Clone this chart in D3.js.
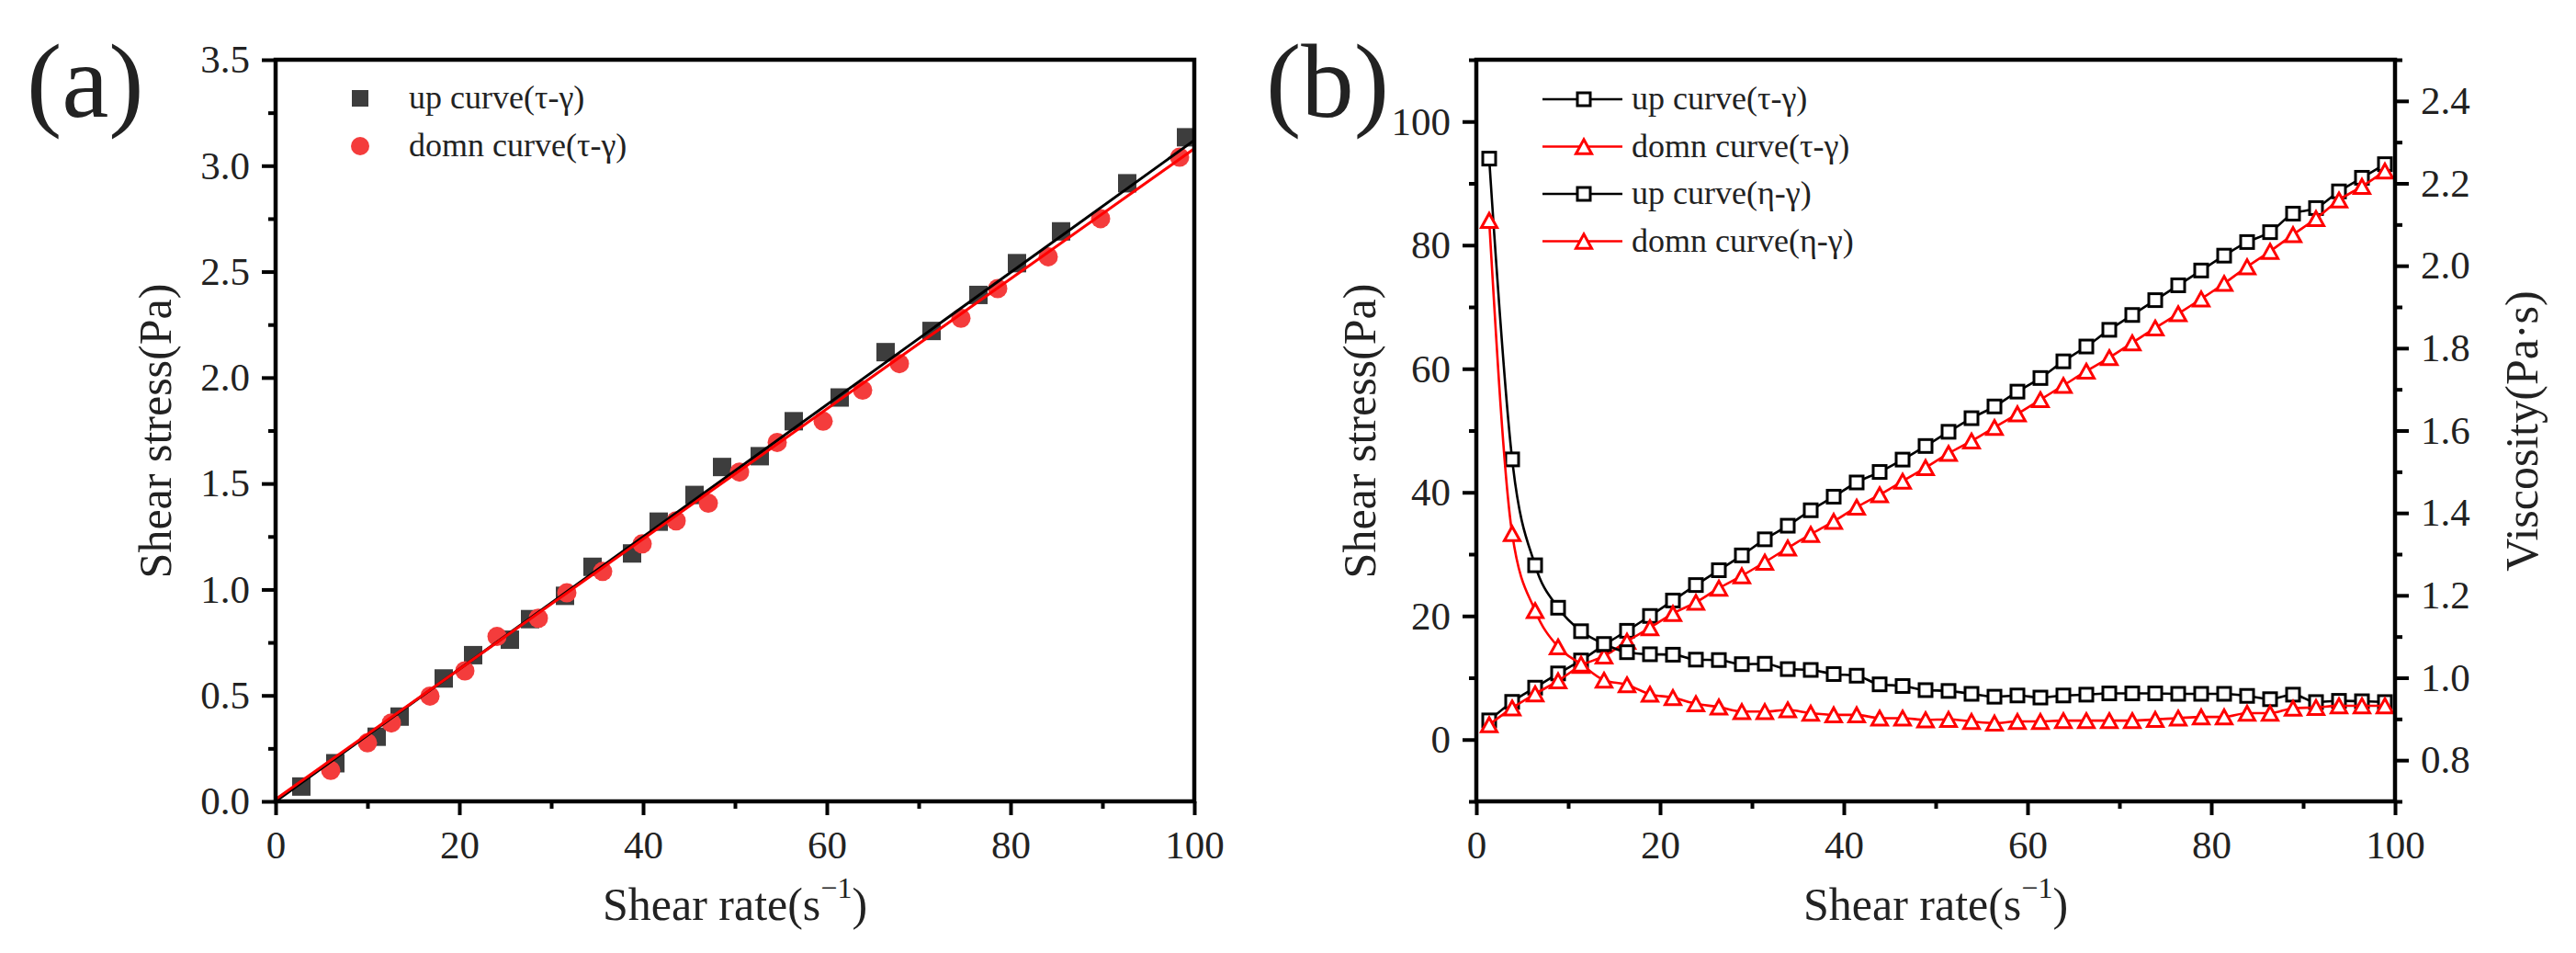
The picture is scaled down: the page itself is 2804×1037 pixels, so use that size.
<!DOCTYPE html>
<html><head><meta charset="utf-8">
<script src="https://cdn.jsdelivr.net/npm/d3@7"></script>
<style>
body{margin:0;background:#fff}
svg text{font-family:'Liberation Serif','Tinos','Times New Roman','Nimbus Roman','DejaVu Serif',serif;fill:#222}
</style>
</head><body>
<svg id="c" width="2804" height="1037"></svg>
<script>
// ---------- Panel (a) data ----------
const upRateA   = [2.8, 6.5, 11.0, 13.5, 18.3, 21.5, 25.5, 27.7, 31.5, 34.5, 38.8, 41.7, 45.6, 48.6, 52.7, 56.4, 61.4, 66.4, 71.4, 76.5, 80.7, 85.5, 92.7, 99.1];
const upStressA = [0.07, 0.18, 0.305, 0.40, 0.58, 0.69, 0.763, 0.86, 0.97, 1.107, 1.17, 1.32, 1.446, 1.578, 1.629, 1.794, 1.906, 2.12, 2.22, 2.39, 2.54, 2.69, 2.917, 3.134];
const downRateA   = [6.0, 10.0, 12.6, 16.8, 20.6, 24.1, 28.6, 31.7, 35.6, 39.9, 43.6, 47.1, 50.5, 54.6, 59.6, 63.9, 67.9, 74.6, 78.6, 84.1, 89.8, 98.4];
const downStressA = [0.146, 0.276, 0.37, 0.497, 0.616, 0.778, 0.864, 0.984, 1.085, 1.215, 1.324, 1.407, 1.554, 1.694, 1.794, 1.941, 2.066, 2.28, 2.42, 2.57, 2.75, 3.04];
const upFitA   = [[0, 0], [100, 3.12]];
const downFitA = [[0, 0.01], [100, 3.08]];
const xTicksA = [0, 20, 40, 60, 80, 100];
const xMinorA = [10, 30, 50, 70, 90];
const yTicksA = [0, 0.5, 1.0, 1.5, 2.0, 2.5, 3.0, 3.5];
const yMinorA = [0.25, 0.75, 1.25, 1.75, 2.25, 2.75, 3.25];
const legendA = ["up curve(τ-γ)", "domn curve(τ-γ)"];

// ---------- Panel (b) data ----------
const rateB = [1.4, 3.9, 6.4, 8.9, 11.4, 13.9, 16.4, 18.9, 21.4, 23.9, 26.4, 28.9, 31.4, 33.9, 36.4, 38.9, 41.4, 43.9, 46.4, 48.9,
               51.4, 53.9, 56.4, 58.9, 61.4, 63.9, 66.4, 68.9, 71.4, 73.9, 76.4, 78.9, 81.4, 83.9, 86.4, 88.9, 91.4, 93.9, 96.4, 98.9];
const upStressB = [3.1, 6.1, 8.4, 10.7, 12.8, 15.3, 17.6, 20.0, 22.5, 25.0, 27.4, 29.8, 32.4, 34.6, 37.1, 39.3, 41.6, 43.3, 45.3, 47.5,
                   49.8, 52.0, 53.9, 56.3, 58.5, 61.2, 63.6, 66.3, 68.7, 71.1, 73.5, 75.9, 78.3, 80.5, 82.1, 85.1, 86.0, 88.7, 90.9, 93.1];
const downStressB = [2.4, 5.1, 7.4, 9.5, 12.0, 13.5, 15.9, 18.1, 20.4, 22.2, 24.5, 26.5, 28.7, 31.0, 33.2, 35.3, 37.6, 39.6, 41.8, 44.0,
                     46.3, 48.3, 50.5, 52.7, 55.0, 57.3, 59.6, 61.8, 64.2, 66.6, 68.9, 71.3, 73.8, 76.5, 79.0, 81.7, 84.3, 87.3, 89.5, 92.0];
const upViscB = [2.260, 1.530, 1.273, 1.170, 1.113, 1.082, 1.062, 1.057, 1.056, 1.044, 1.043, 1.033, 1.034, 1.021, 1.019, 1.009, 1.005, 0.984, 0.980, 0.970,
                 0.968, 0.961, 0.954, 0.957, 0.952, 0.957, 0.959, 0.962, 0.962, 0.962, 0.961, 0.961, 0.961, 0.956, 0.948, 0.959, 0.941, 0.944, 0.943, 0.941];
const downViscB = [2.110, 1.350, 1.163, 1.075, 1.033, 0.994, 0.983, 0.960, 0.952, 0.937, 0.929, 0.918, 0.918, 0.922, 0.914, 0.910, 0.910, 0.902, 0.902, 0.898,
                   0.899, 0.894, 0.890, 0.894, 0.894, 0.896, 0.896, 0.896, 0.896, 0.899, 0.902, 0.905, 0.905, 0.914, 0.914, 0.926, 0.928, 0.932, 0.932, 0.932];
const xTicksB = [0, 20, 40, 60, 80, 100];
const xMinorB = [10, 30, 50, 70, 90];
const yTicksBL = [0, 20, 40, 60, 80, 100];
const yMinorBL = [-10, 10, 30, 50, 70, 90, 110];
const yTicksBR = [0.8, 1.0, 1.2, 1.4, 1.6, 1.8, 2.0, 2.2, 2.4];
const yMinorBR = [0.7, 0.9, 1.1, 1.3, 1.5, 1.7, 1.9, 2.1, 2.3, 2.5];
const legendB = ["up curve(τ-γ)", "domn curve(τ-γ)", "up curve(η-γ)", "domn curve(η-γ)"];

// ---------- drawing ----------
const FONT = "'Liberation Serif','Tinos','Times New Roman','Nimbus Roman','DejaVu Serif',serif";
const svg = d3.select('#c');
svg.append('rect').attr('width', 2804).attr('height', 1037).attr('fill', '#fff');

const TOP = 65, BOT = 872;
const xA = d3.scaleLinear().domain([0, 100]).range([300, 1300]);
const yA = d3.scaleLinear().domain([0, 3.5]).range([BOT, TOP]);
const xB = d3.scaleLinear().domain([0, 100]).range([1607, 2607]);
const yBL = d3.scaleLinear().domain([-10, 110]).range([BOT, TOP]);
const yBR = d3.scaleLinear().domain([0.7, 2.5]).range([BOT, TOP]);

function styleAxis(sel) {
  sel.attr('font-family', FONT);
  sel.select('.domain').remove();
  sel.selectAll('line').attr('stroke', '#000').attr('stroke-width', 4);
  sel.selectAll('text').attr('font-size', 43).attr('fill', '#222').style('font-family', FONT);
}
function addAxis(gen, tr) {
  svg.append('g').attr('transform', tr).call(gen).call(styleAxis);
}
function txt(sel) { return sel.style('font-family', FONT); }

// ---- Panel (a) ----
const gA = svg.append('g');
gA.selectAll('rect.up').data(d3.zip(upRateA, upStressA)).join('rect')
  .attr('x', d => xA(d[0]) - 10).attr('y', d => yA(d[1]) - 10)
  .attr('width', 20).attr('height', 20).attr('fill', '#3d3d3d');
gA.selectAll('circle.dn').data(d3.zip(downRateA, downStressA)).join('circle')
  .attr('cx', d => xA(d[0])).attr('cy', d => yA(d[1])).attr('r', 10.5).attr('fill', '#f43c3c');
const lineA = d3.line().x(d => xA(d[0])).y(d => yA(d[1]));
gA.append('path').attr('d', lineA(upFitA)).attr('stroke', '#000').attr('stroke-width', 3).attr('fill', 'none');
gA.append('path').attr('d', lineA(downFitA)).attr('stroke', '#ff0000').attr('stroke-width', 3).attr('fill', 'none');

addAxis(d3.axisBottom(xA).tickValues(xTicksA).tickSize(15).tickPadding(16).tickFormat(d3.format('d')), `translate(0,${BOT})`);
addAxis(d3.axisBottom(xA).tickValues(xMinorA).tickSize(8).tickFormat(''), `translate(0,${BOT})`);
addAxis(d3.axisLeft(yA).tickValues(yTicksA).tickSize(15).tickPadding(13).tickFormat(d3.format('.1f')), `translate(300,0)`);
addAxis(d3.axisLeft(yA).tickValues(yMinorA).tickSize(8).tickFormat(''), `translate(300,0)`);
svg.append('rect').attr('x', 300).attr('y', TOP).attr('width', 1000).attr('height', BOT - TOP)
  .attr('fill', 'none').attr('stroke', '#000').attr('stroke-width', 4.5);

// legend (a)
svg.append('rect').attr('x', 383).attr('y', 98).attr('width', 18).attr('height', 18).attr('fill', '#3d3d3d');
svg.append('circle').attr('cx', 392).attr('cy', 159).attr('r', 10).attr('fill', '#f43c3c');
legendA.forEach((t, i) => txt(svg.append('text')).attr('x', 445).attr('y', 118 + i * 52).attr('font-size', 36).text(t));

// titles (a)
txt(svg.append('text')).attr('x', 29).attr('y', 127).attr('font-size', 115).text('(a)');
txt(svg.append('text')).attr('transform', 'translate(186,469) rotate(-90)').attr('text-anchor', 'middle')
  .attr('font-size', 50).text('Shear stress(Pa)');
function xTitle(cx) {
  const t = txt(svg.append('text')).attr('x', cx).attr('y', 1001).attr('text-anchor', 'middle').attr('font-size', 50);
  t.append('tspan').text('Shear rate(s');
  t.append('tspan').attr('font-size', 32).attr('dy', -24).text('−1');
  t.append('tspan').attr('dy', 24).text(')');
}
xTitle(800);

// ---- Panel (b) ----
function triPath(s) {
  const h = s * 0.9;
  return `M0,${-h / 2}L${s / 2},${h / 2}L${-s / 2},${h / 2}Z`;
}
const gB = svg.append('g');
const seriesB = [
  {y: upStressB, sc: yBL, color: '#000', shape: 'sq'},
  {y: downStressB, sc: yBL, color: '#ff0000', shape: 'tri'},
  {y: upViscB, sc: yBR, color: '#000', shape: 'sq'},
  {y: downViscB, sc: yBR, color: '#ff0000', shape: 'tri'}
];
seriesB.forEach(s => {
  const pts = d3.zip(rateB, s.y);
  const line = d3.line().x(d => xB(d[0])).y(d => s.sc(d[1])).curve(d3.curveMonotoneX);
  gB.append('path').attr('d', line(pts)).attr('fill', 'none').attr('stroke', s.color).attr('stroke-width', 2.6);
  const m = gB.append('g');
  if (s.shape === 'sq') {
    m.selectAll('rect').data(pts).join('rect')
      .attr('x', d => xB(d[0]) - 7).attr('y', d => s.sc(d[1]) - 7).attr('width', 14).attr('height', 14)
      .attr('fill', '#fff').attr('stroke', s.color).attr('stroke-width', 3);
  } else {
    m.selectAll('path').data(pts).join('path')
      .attr('transform', d => `translate(${xB(d[0])},${s.sc(d[1])})`).attr('d', triPath(17))
      .attr('fill', '#fff').attr('stroke', s.color).attr('stroke-width', 3);
  }
});

addAxis(d3.axisBottom(xB).tickValues(xTicksB).tickSize(15).tickPadding(16).tickFormat(d3.format('d')), `translate(0,${BOT})`);
addAxis(d3.axisBottom(xB).tickValues(xMinorB).tickSize(8).tickFormat(''), `translate(0,${BOT})`);
addAxis(d3.axisLeft(yBL).tickValues(yTicksBL).tickSize(15).tickPadding(13).tickFormat(d3.format('d')), `translate(1607,0)`);
addAxis(d3.axisLeft(yBL).tickValues(yMinorBL).tickSize(8).tickFormat(''), `translate(1607,0)`);
addAxis(d3.axisRight(yBR).tickValues(yTicksBR).tickSize(15).tickPadding(13).tickFormat(d3.format('.1f')), `translate(2607,0)`);
addAxis(d3.axisRight(yBR).tickValues(yMinorBR).tickSize(8).tickFormat(''), `translate(2607,0)`);
svg.append('rect').attr('x', 1607).attr('y', TOP).attr('width', 1000).attr('height', BOT - TOP)
  .attr('fill', 'none').attr('stroke', '#000').attr('stroke-width', 4.5);

// legend (b)
legendB.forEach((t, i) => {
  const y = 108 + i * 51.5;
  const c = i % 2 === 0 ? '#000' : '#ff0000';
  svg.append('line').attr('x1', 1679).attr('x2', 1766).attr('y1', y).attr('y2', y).attr('stroke', c).attr('stroke-width', 2.6);
  if (i % 2 === 0) {
    svg.append('rect').attr('x', 1717).attr('y', y - 7).attr('width', 14).attr('height', 14)
      .attr('fill', '#fff').attr('stroke', c).attr('stroke-width', 3);
  } else {
    svg.append('path').attr('transform', `translate(1724,${y})`).attr('d', triPath(17))
      .attr('fill', '#fff').attr('stroke', c).attr('stroke-width', 3);
  }
  txt(svg.append('text')).attr('x', 1776).attr('y', y + 11).attr('font-size', 36).text(t);
});

// titles (b)
txt(svg.append('text')).attr('x', 1378).attr('y', 127).attr('font-size', 115).text('(b)');
txt(svg.append('text')).attr('transform', 'translate(1497,469) rotate(-90)').attr('text-anchor', 'middle')
  .attr('font-size', 50).text('Shear stress(Pa)');
txt(svg.append('text')).attr('transform', 'translate(2762,469) rotate(-90)').attr('text-anchor', 'middle')
  .attr('font-size', 50).text('Viscosity(Pa·s)');
xTitle(2107);
</script>
</body></html>
